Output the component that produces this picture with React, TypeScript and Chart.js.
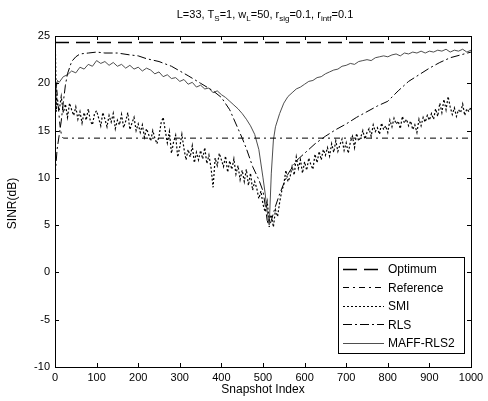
import React, { useEffect, useRef } from "react";
import { Chart, registerables } from "chart.js";
Chart.register(...registerables);

const FONT = "'Liberation Sans', Arial, sans-serif";

const xTickValues = [0, 100, 200, 300, 400, 500, 600, 700, 800, 900, 1000];
const yTickValues = [-10, -5, 0, 5, 10, 15, 20, 25];

const optimumX = [0, 1000];
const optimumY = [24.3, 24.3];

const referenceX = [0, 4, 8, 12, 16, 20, 1000];
const referenceY = [21.0, 19.5, 17.5, 15.5, 14.4, 14.2, 14.2];

const rlsX = [0, 5, 10, 15, 20, 25, 30, 40, 50, 60, 80, 100, 120, 150, 180, 200, 220, 250, 280, 300, 320, 350, 380, 400, 420, 440, 450, 460, 475, 490, 500, 505, 510, 515, 520, 530, 540, 550, 560, 580, 600, 625, 650, 675, 700, 725, 750, 775, 800, 825, 850, 875, 900, 925, 950, 975, 1000];
const rlsY = [10.0, 13.0, 14.5, 16.0, 18.0, 19.8, 21.0, 22.3, 22.8, 23.1, 23.2, 23.3, 23.2, 23.2, 23.0, 22.9, 22.6, 22.3, 21.8, 21.3, 20.8, 20.0, 19.2, 18.5, 17.2, 15.2, 14.2, 13.1, 11.2, 9.8, 8.6, 7.2, 5.5, 4.8, 5.5, 7.0, 8.3, 9.4, 10.4, 11.8, 12.6, 13.6, 14.4, 15.1, 15.7, 16.4, 17.0, 17.6, 18.1, 19.2, 20.2, 20.9, 21.6, 22.2, 22.7, 23.0, 23.3];

const maffX = [0, 3, 6, 10, 20, 30, 40, 50, 60, 70, 80, 90, 100, 110, 120, 130, 140, 150, 160, 170, 180, 190, 200, 210, 220, 230, 240, 250, 260, 270, 280, 290, 300, 310, 320, 330, 340, 350, 360, 370, 380, 390, 400, 410, 420, 430, 440, 450, 460, 470, 480, 490, 500, 505, 510, 515, 520, 525, 530, 540, 550, 560, 570, 580, 590, 600, 610, 620, 630, 640, 650, 660, 670, 680, 690, 700, 710, 720, 730, 740, 750, 760, 770, 780, 790, 800, 810, 820, 830, 840, 850, 860, 870, 880, 890, 900, 910, 920, 930, 940, 950, 960, 970, 980, 990, 1000];
const maffY = [16.0, 19.6, 20.3, 20.1, 20.7, 20.9, 21.3, 21.1, 21.7, 21.5, 22.0, 21.8, 22.4, 22.1, 22.3, 21.9, 22.2, 21.8, 22.0, 21.6, 21.9, 21.5, 21.7, 21.3, 21.6, 21.4, 21.0, 21.2, 20.7, 20.9, 20.5, 20.6, 20.2, 20.4, 19.9, 20.1, 19.6, 19.8, 19.4, 19.5, 19.0, 19.2, 18.8, 18.5, 18.1, 17.7, 17.3, 16.8, 16.2, 15.5, 14.6, 13.0, 10.0, 8.4, 6.5, 5.0, 10.5, 14.0, 15.4, 16.8, 17.9, 18.6, 19.0, 19.4, 19.6, 19.9, 20.2, 20.3, 20.6, 20.7, 21.0, 21.2, 21.4, 21.5, 21.8, 21.9, 22.1, 22.0, 22.3, 22.4, 22.5, 22.4, 22.7, 22.8, 22.9, 22.8, 23.0, 23.1, 22.9, 23.2, 23.1, 23.3, 23.2, 23.4, 23.2, 23.4, 23.3, 23.5, 23.4, 23.6, 23.3, 23.5, 23.4, 23.6, 23.3, 23.5];

const smiX = [0, 1, 3, 5, 10, 15, 20, 25, 30, 35, 40, 45, 50, 55, 60, 65, 70, 75, 80, 85, 90, 95, 100, 105, 110, 115, 120, 125, 130, 135, 140, 145, 150, 155, 160, 165, 170, 175, 180, 185, 190, 195, 200, 205, 210, 215, 220, 225, 230, 235, 240, 245, 250, 255, 260, 265, 270, 275, 280, 285, 290, 295, 300, 305, 310, 315, 320, 325, 330, 335, 340, 345, 350, 355, 360, 365, 370, 375, 380, 385, 390, 395, 400, 405, 410, 415, 420, 425, 430, 435, 440, 445, 450, 455, 460, 465, 470, 475, 480, 485, 490, 495, 500, 505, 510, 515, 520, 525, 530, 535, 540, 545, 550, 555, 560, 565, 570, 575, 580, 585, 590, 595, 600, 605, 610, 615, 620, 625, 630, 635, 640, 645, 650, 655, 660, 665, 670, 675, 680, 685, 690, 695, 700, 705, 710, 715, 720, 725, 730, 735, 740, 745, 750, 755, 760, 765, 770, 775, 780, 785, 790, 795, 800, 805, 810, 815, 820, 825, 830, 835, 840, 845, 850, 855, 860, 865, 870, 875, 880, 885, 890, 895, 900, 905, 910, 915, 920, 925, 930, 935, 940, 945, 950, 955, 960, 965, 970, 975, 980, 985, 990, 995, 1000];
const smiY = [
  -9.5, 23.5, 17.0,
  18.2, 17.1, 18.6, 16.9, 17.8, 16.4, 17.9, 17.2, 16.6, 17.5,
  16.2, 17.0, 15.8, 16.9, 16.1, 17.3, 16.0, 15.6, 16.8, 17.1,
  16.3, 15.5, 16.9, 16.2, 15.4, 16.6, 15.9, 16.8, 15.2, 16.1,
  15.6, 16.7, 15.3, 16.0, 16.9, 15.1, 15.8, 16.4, 15.0, 15.7,
  14.8, 15.6, 14.3, 15.2, 14.6, 13.9, 15.0, 14.2, 13.6, 14.4,
  15.8, 16.4, 15.0, 13.7, 14.9, 12.6, 13.8, 14.5, 12.2, 13.3,
  14.6, 13.1, 11.9, 13.0, 12.2, 13.4, 11.6, 12.7, 11.9, 12.9,
  12.0, 13.2, 11.5, 12.4, 11.1, 9.0, 12.1, 11.3, 12.6, 11.9,
  11.2, 12.3, 10.6, 11.8, 10.9, 12.0, 10.4, 11.3, 9.8, 10.8,
  9.6, 10.9, 9.2, 10.5, 8.7, 9.6, 8.9, 7.8, 8.6, 7.2,
  6.4, 7.5, 5.5, 6.1, 4.8, 6.6, 5.9, 7.4, 8.6, 9.3,
  10.8, 9.6, 10.1, 11.2, 10.3, 12.2, 11.0, 11.9, 10.5, 11.7,
  10.8, 12.1, 11.4, 10.9, 12.5, 11.6, 12.8, 11.9, 13.0, 12.4,
  13.2, 12.3, 13.6, 12.7, 13.9, 12.8, 13.5, 14.1, 12.9, 13.7,
  12.6, 13.8, 14.4, 13.2, 14.7, 13.9, 14.3, 15.0, 14.1, 14.8,
  15.2, 14.4, 15.6, 14.9, 15.3, 14.6, 15.8, 15.1, 15.5, 14.8,
  16.1, 15.4, 16.3, 15.7, 16.0, 15.2, 16.5, 15.8, 16.2, 15.5,
  16.0, 15.1, 15.6, 14.8, 16.2, 15.5, 16.4, 15.9, 16.6, 16.1,
  16.8, 16.2, 17.3, 16.5, 17.9, 16.9, 18.3, 17.2, 18.6, 17.5,
  16.7, 17.4, 16.5, 17.2, 16.9, 17.8, 16.6, 17.3, 17.0, 17.5,
];

const seriesNames = ["Optimum", "Reference", "SMI", "RLS", "MAFF-RLS2"];
const seriesDash = [[14, 7], [6, 4, 2, 4], [2, 2], [9, 3, 2, 3], []];
const seriesWidth = [1.5, 1, 1.2, 1, 0.9];
const seriesColor = ["#000000", "#000000", "#000000", "#000000", "#3a3a3a"];

const toPts = (xs: number[], ys: number[]) => xs.map((x, i) => ({ x, y: ys[i] }));

const titleParts: [string, boolean][] = [
  ["L=33, T", false], ["S", true], ["=1, w", false], ["L", true],
  ["=50, r", false], ["sig", true], ["=0.1, r", false], ["intf", true], ["=0.1", false],
];

const framePlugin = {
  id: "frame",
  afterDraw(chart: any) {
    const { ctx, chartArea: a, scales } = chart;
    ctx.save();
    ctx.strokeStyle = "#000";
    ctx.lineWidth = 1;
    ctx.strokeRect(Math.round(a.left) + 0.5, Math.round(a.top) + 0.5, Math.round(a.right - a.left), Math.round(a.bottom - a.top));
    ctx.beginPath();
    const tl = 4;
    xTickValues.forEach((v) => {
      const px = Math.round(scales.x.getPixelForValue(v)) + 0.5;
      ctx.moveTo(px, a.bottom); ctx.lineTo(px, a.bottom - tl);
      ctx.moveTo(px, a.top); ctx.lineTo(px, a.top + tl);
    });
    yTickValues.forEach((v) => {
      const py = Math.round(scales.y.getPixelForValue(v)) + 0.5;
      ctx.moveTo(a.left, py); ctx.lineTo(a.left + tl, py);
      ctx.moveTo(a.right, py); ctx.lineTo(a.right - tl, py);
    });
    ctx.stroke();

    // title with subscripts
    const mainF = `11px ${FONT}`;
    const subF = `8px ${FONT}`;
    let w = 0;
    titleParts.forEach(([t, s]) => { ctx.font = s ? subF : mainF; w += ctx.measureText(t).width; });
    let x = (a.left + a.right) / 2 - w / 2 + 2;
    const base = 18;
    ctx.fillStyle = "#000";
    ctx.textBaseline = "alphabetic";
    ctx.textAlign = "left";
    titleParts.forEach(([t, s]) => {
      ctx.font = s ? subF : mainF;
      ctx.fillText(t, x, s ? base + 3 : base);
      x += ctx.measureText(t).width;
    });

    // axis titles
    ctx.font = `12px ${FONT}`;
    ctx.textAlign = "center";
    ctx.textBaseline = "middle";
    ctx.fillText("Snapshot Index", (a.left + a.right) / 2, 390);
    ctx.save();
    ctx.translate(13, (a.top + a.bottom) / 2 + 2);
    ctx.rotate(-Math.PI / 2);
    ctx.fillText("SINR(dB)", 0, 0);
    ctx.restore();

    // legend
    const bx = 338, by = 257, bw = 126, bh = 96;
    ctx.fillStyle = "#fff";
    ctx.fillRect(bx, by, bw, bh);
    ctx.strokeStyle = "#000";
    ctx.lineWidth = 1;
    ctx.setLineDash([]);
    ctx.strokeRect(bx + 0.5, by + 0.5, bw, bh);
    ctx.font = `12px ${FONT}`;
    ctx.textAlign = "left";
    ctx.textBaseline = "middle";
    seriesNames.forEach((n, i) => {
      const y = by + 12 + i * 18.4;
      ctx.beginPath();
      ctx.setLineDash(seriesDash[i]);
      ctx.lineWidth = seriesWidth[i];
      ctx.strokeStyle = seriesColor[i];
      ctx.moveTo(343, Math.round(y) + 0.5);
      ctx.lineTo(384, Math.round(y) + 0.5);
      ctx.stroke();
      ctx.setLineDash([]);
      ctx.fillStyle = "#000";
      ctx.fillText(n, 388, y + 1);
    });
    ctx.restore();
  },
};

export default function App() {
  const ref = useRef<HTMLCanvasElement>(null);
  useEffect(() => {
    document.body.style.margin = "0";
    const canvas = ref.current!;
    const xsAll = [optimumX, referenceX, smiX, rlsX, maffX];
    const ysAll = [optimumY, referenceY, smiY, rlsY, maffY];
    const chart = new Chart(canvas, {
      type: "line",
      data: {
        datasets: seriesNames.map((n, i) => ({
          label: n,
          data: toPts(xsAll[i], ysAll[i]),
          borderColor: seriesColor[i],
          borderWidth: seriesWidth[i],
          borderDash: seriesDash[i],
          pointRadius: 0,
          fill: false,
          tension: 0,
        })),
      },
      options: {
        animation: false,
        responsive: false,
        devicePixelRatio: 1,
        layout: { padding: { top: 36, right: 17, left: 0, bottom: 0 } },
        plugins: { legend: { display: false }, title: { display: false }, tooltip: { enabled: false } },
        scales: {
          x: {
            type: "linear",
            min: 0,
            max: 1000,
            grid: { display: false, drawTicks: false },
            border: { display: false },
            ticks: { stepSize: 100, color: "#000", padding: 4, font: { family: FONT, size: 11 }, maxRotation: 0, callback: (v: any) => String(v) },
            afterFit: (s: any) => { s.height = 34; },
          },
          y: {
            type: "linear",
            min: -10,
            max: 25,
            grid: { display: false, drawTicks: false },
            border: { display: false },
            ticks: { stepSize: 5, color: "#000", padding: 5, font: { family: FONT, size: 11 }, callback: (v: any) => String(v) },
            afterFit: (s: any) => { s.width = 55; },
          },
        },
      },
      plugins: [framePlugin],
    } as any);
    return () => chart.destroy();
  }, []);
  return (
    <div style={{ width: 488, height: 401, background: "#fff" }}>
      <canvas ref={ref} width={488} height={401} style={{ width: 488, height: 401, display: "block" }} />
    </div>
  );
}
